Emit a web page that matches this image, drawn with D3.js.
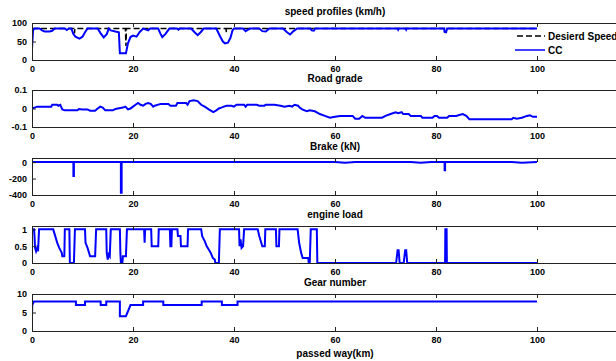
<!DOCTYPE html>
<html><head><meta charset="utf-8">
<script src="https://cdn.jsdelivr.net/npm/d3@7"></script>
<style>body{margin:0;background:#fff}svg{display:block}text{font-family:"Liberation Sans",Arial,sans-serif;font-weight:bold;fill:#000}</style>
</head><body><svg id="c" width="616" height="361"></svg>
<script>
// ---- data (distance km, value) ----
const xTicks = [0, 20, 40, 60, 80, 100];
const titles = ["speed profiles (km/h)", "Road grade", "Brake (kN)", "engine load", "Gear number"];
const xLabel = "passed way(km)";
const legendLabels = ["Desierd Speed", "CC"];

const desiredSpeed = [[0,85],[8.3,85],[8.4,72],[8.5,85],[18.5,85],[18.6,38],[18.7,85],[38.4,85],[38.5,75],[38.6,85],[55.5,85],[55.6,80],[55.7,85],[100,85]];
const ccSpeed = [[0,29],[0.2,80],[0.5,85],[1.5,85],[2,80],[2.5,77],[3.5,77],[4,79],[4.5,85],[6.5,85],[6.9,81],[7.3,85],[7.8,85],[8.2,70],[8.6,63],[9.4,58],[10,63],[10.5,75],[11,85],[13,85],[13.6,72],[14.2,61],[14.8,70],[15.2,85],[15.6,80],[16.5,77],[17.2,75],[17.4,18],[18.6,18],[19,45],[19.5,62],[20,66],[20.7,63],[21.3,75],[22,85],[22.6,82],[23,80],[23.4,85],[25,85],[25.4,72],[25.8,62],[26.4,70],[27.2,85],[28.7,85],[29,82],[29.3,85],[31.5,85],[32.2,75],[32.8,67],[33.4,75],[34,85],[36.5,85],[37.2,65],[37.8,50],[38.2,45],[38.8,47],[39.3,60],[39.7,80],[40,85],[41.8,85],[42.3,78],[42.8,82],[43.2,85],[45,85],[45.6,78],[46.3,77],[47,85],[49.7,85],[50.5,75],[51.1,69],[51.8,78],[52.5,85],[55.1,85],[55.4,80],[55.8,79],[56.1,85],[72.4,85],[72.5,82],[72.6,85],[74,85],[74.1,82],[74.2,85],[81.6,85],[81.7,76],[82,75],[82.2,85],[100,85]];
const roadGrade = [[0,0],[0.5,0.005],[1,0.01],[3.8,0.01],[4,0.02],[5,0.02],[5.2,0.015],[5.6,0.02],[6,-0.005],[6.5,-0.01],[9,-0.01],[9.3,-0.003],[10,-0.005],[11,-0.005],[11.5,-0.012],[12.5,-0.012],[13,0],[13.5,0.01],[14,0.005],[14.5,-0.01],[16,-0.01],[16.5,-0.003],[17,0],[18,0.005],[18.5,0.01],[19,-0.005],[19.5,0],[20,0.01],[20.5,0.02],[21,0.03],[21.5,0.02],[22,0.015],[22.5,0.025],[23,0.03],[23.5,0.025],[24,0.01],[24.3,0.015],[25.5,0.025],[27,0.025],[27.4,0.015],[28.5,0.015],[28.8,0.03],[30.5,0.03],[30.8,0.02],[31.2,0.04],[32,0.045],[32.8,0.04],[33.5,0.02],[34.2,0.01],[35,-0.005],[35.9,-0.02],[36.5,-0.01],[37,0],[37.5,0.005],[38,0.01],[38.5,0.015],[39.5,0.015],[40,0.01],[40.5,0.02],[42,0.02],[42.3,0.01],[42.6,0.02],[44.5,0.02],[45,0.015],[46,0.015],[46.3,0.02],[48,0.02],[49.2,0.015],[50,0.01],[51,0.015],[51.5,0.01],[52,0.02],[52.7,0.015],[53,0.005],[53.5,-0.005],[54.4,-0.015],[55,-0.01],[56,-0.015],[57,-0.03],[58,-0.04],[59,-0.05],[60,-0.045],[61,-0.04],[63.5,-0.04],[64,-0.055],[64.8,-0.055],[65.4,-0.04],[66,-0.05],[69.3,-0.05],[70,-0.04],[71,-0.03],[72,-0.02],[72.5,-0.025],[73.2,-0.02],[73.5,-0.03],[74.6,-0.03],[75,-0.04],[77,-0.04],[77.3,-0.05],[79.3,-0.05],[79.7,-0.04],[80.2,-0.04],[80.6,-0.05],[82.2,-0.05],[82.6,-0.04],[84,-0.04],[84.6,-0.035],[85.3,-0.03],[86,-0.04],[86.6,-0.058],[95,-0.058],[95.3,-0.05],[96,-0.055],[97,-0.05],[98,-0.04],[98.6,-0.037],[99.2,-0.045],[100,-0.045]];
const brakeForce = [[0,0],[8.2,0],[8.2,-170],[8.3,-170],[8.3,0],[17.6,0],[17.6,-372],[17.75,-372],[17.75,0],[60,0],[62,-8],[64,0],[75,0],[77,-8],[79,0],[81.7,0],[81.7,-100],[81.8,-100],[81.8,0],[95,0],[97,-8],[100,0]];
const engineLoad = [[0,1],[0.4,1],[0.5,0.8],[0.6,0.45],[0.8,0.35],[1.0,0.45],[1.2,0.35],[1.4,1],[4.2,1],[4.6,0.8],[5.0,0.6],[5.4,0.45],[5.9,0.3],[6.0,0.2],[6.4,0.2],[6.5,1],[7.4,1],[7.5,0],[8.3,0],[8.5,1],[10.5,1],[10.6,0.6],[11.0,0.45],[11.3,0.3],[11.5,0.2],[12.5,0.2],[12.7,1],[14.7,1],[14.8,0.3],[15.0,0.1],[15.2,0.25],[15.4,0.2],[15.6,1],[17.4,1],[17.5,0.3],[17.6,0],[17.9,0],[18.0,0.2],[18.6,0.2],[18.8,1],[22.2,1],[22.3,0.6],[22.4,1],[23.6,1],[23.7,0.5],[25,0.5],[25.1,1],[27.3,1],[27.4,0.5],[27.6,0.5],[27.7,1],[28.8,1],[28.9,0.8],[29.4,0.8],[29.5,0.5],[30.8,0.5],[30.9,1],[33.5,1],[33.7,0.8],[34.2,0.65],[34.6,0.5],[35,0.4],[35.4,0.3],[35.8,0.15],[36.2,0.1],[36.3,0],[37,0],[37.2,1],[41,1],[41.1,0.5],[41.3,0.7],[41.5,0.45],[41.8,0.5],[42,1],[44.7,1],[45,0.8],[45.4,0.6],[45.6,0.5],[46.1,0.5],[46.2,1],[48.3,1],[48.4,0.5],[48.9,0.5],[49,1],[52.6,1],[52.9,0.6],[53.3,0.3],[53.6,0.15],[54.7,0.15],[54.8,0],[55,0],[55.2,1],[56.4,1],[56.5,0],[72.1,0],[72.4,0.38],[72.6,0.38],[72.8,0],[73.6,0],[73.9,0.38],[74.1,0.38],[74.3,0],[81.8,0],[81.85,1],[82.1,1],[82.15,0],[100,0]];
const gearNumber = [[0,3.6],[0.05,7],[0.4,8],[8.7,8],[8.7,7],[10.5,7],[10.5,8],[13.6,8],[13.6,7],[14.7,7],[14.7,8],[17.4,8],[17.4,4],[18.6,4],[18.9,5],[19.2,6],[19.5,7],[22,7],[22,8],[26,8],[26,7],[33.6,7],[33.6,8],[37.6,8],[37.6,7],[40.7,7],[40.7,8],[100,8]];

const yDomains = [[0,100],[-0.1,0.1],[-400,50],[0,1.1],[0,10]];
const yTicks = [[0,50,100],[-0.1,0,0.1],[-400,-200,0],[0,0.5,1],[0,5,10]];

// ---- layout ----
const svg = d3.select("#c");
const left = 32, right = 638;
const tops = [23, 90, 158, 226, 294];
const ph = 37;
const x = d3.scaleLinear().domain([0,120]).range([left, right]);
const fmt = d => String(d);

const panels = [
  {series:[{d:desiredSpeed, dash:true},{d:ccSpeed}]},
  {series:[{d:roadGrade}]},
  {series:[{d:brakeForce}]},
  {series:[{d:engineLoad}]},
  {series:[{d:gearNumber}]}
];

panels.forEach((p,i)=>{
  const t = tops[i];
  const y = d3.scaleLinear().domain(yDomains[i]).range([t+ph, t]);
  const g = svg.append("g");
  g.append("text").attr("x",(left+right)/2).attr("y",t-8).attr("text-anchor","middle").attr("font-size",10).text(titles[i]);
  const line = d3.line().x(d=>x(d[0])).y(d=>y(d[1]));
  const clipId = "clip"+i;
  svg.append("clipPath").attr("id",clipId).append("rect").attr("x",left).attr("y",t-1).attr("width",right-left).attr("height",ph+2);
  p.series.forEach(s=>{
    g.append("path").attr("d",line(s.d)).attr("fill","none")
      .attr("stroke", s.dash ? "#000" : "#0000ff")
      .attr("stroke-width", s.dash ? 1.5 : 2)
      .attr("stroke-dasharray", s.dash ? "6,3" : null)
      .attr("clip-path","url(#"+clipId+")");
  });
  const xa = d3.axisBottom(x).tickValues(xTicks).tickFormat(fmt).tickSizeInner(-4).tickSizeOuter(0).tickPadding(6);
  const gx = g.append("g").attr("transform",`translate(0,${t+ph})`).call(xa);
  const xt = d3.axisTop(x).tickValues(xTicks).tickSizeInner(-4).tickSizeOuter(0).tickFormat("");
  const gxt = g.append("g").attr("transform",`translate(0,${t})`).call(xt);
  const ya = d3.axisLeft(y).tickValues(yTicks[i]).tickFormat(fmt).tickSizeInner(-4).tickSizeOuter(0).tickPadding(5);
  const gy = g.append("g").attr("transform",`translate(${left},0)`).call(ya);
  [gx,gxt,gy].forEach(a=>{
    a.select(".domain").remove();
    a.selectAll("line").attr("stroke","#222");
    a.selectAll("text").attr("font-size",9).attr("font-family","'Liberation Sans',Arial,sans-serif").attr("font-weight","bold").attr("fill","#000");
  });
  g.append("rect").attr("x",left+0.5).attr("y",t+0.5).attr("width",right-left).attr("height",ph)
    .attr("fill","none").attr("stroke","#222").attr("stroke-width",1);
});

svg.append("text").attr("x",(left+right)/2).attr("y",357).attr("text-anchor","middle").attr("font-size",10).text(xLabel);

// legend
const lg = svg.append("g");
lg.append("line").attr("x1",517).attr("x2",545).attr("y1",36).attr("y2",36).attr("stroke","#000").attr("stroke-width",1.5).attr("stroke-dasharray","6,3");
lg.append("text").attr("x",548).attr("y",39.5).attr("font-size",10).text(legendLabels[0]);
lg.append("line").attr("x1",515).attr("x2",545).attr("y1",50).attr("y2",50).attr("stroke","#0000ff").attr("stroke-width",1.5);
lg.append("text").attr("x",548).attr("y",53.5).attr("font-size",10).text(legendLabels[1]);
</script></body></html>
